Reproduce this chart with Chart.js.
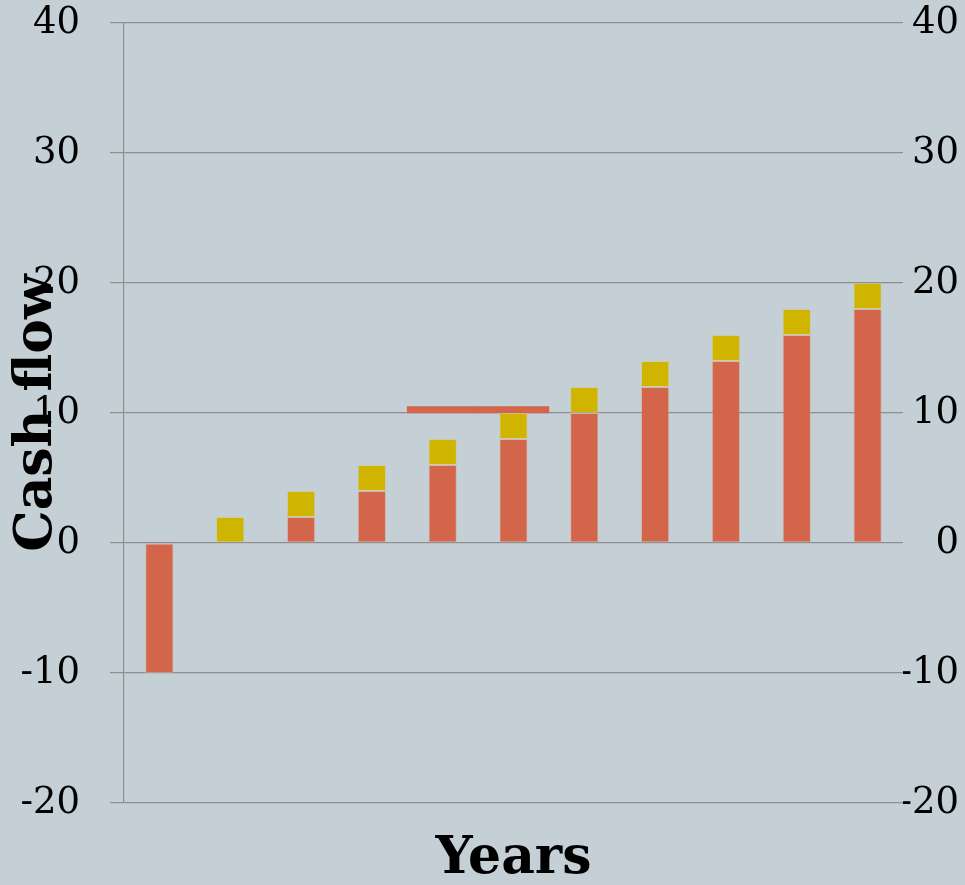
<!DOCTYPE html>
<html>
<head>
<meta charset="utf-8">
<script src="https://cdn.jsdelivr.net/npm/chart.js@4.4.1/dist/chart.umd.min.js"></script>
<style>
  html, body { margin: 0; padding: 0; background: #C5D0D6; }
  #wrap { width: 965px; height: 885px; position: relative; }
</style>
</head>
<body>
<div id="wrap"><canvas id="cashChart"></canvas></div>
<script>
// categories (years, labels hidden on the chart)
var years = ['0', '1', '2', '3', '4', '5', '6', '7', '8', '9', '10'];
// net cash flow per year (orange part)
var cashFlow = [-10, null, 2, 4, 6, 8, 10, 12, 14, 16, 18];
// extra yearly amount stacked on top (yellow part)
var extra = [null, 2, 2, 2, 2, 2, 2, 2, 2, 2, 2];
// payback marker, a thin floating bar across years 4 and 5
var payback = [null, null, null, null, [10, 10.5], [10, 10.5], null, null, null, null, null];
// tick values on both axes
var yTicks = [-20, -10, 0, 10, 20, 30, 40];

var tickFont = { family: 'DejaVu Serif', size: 37 };
var titleFont = { family: 'DejaVu Serif', size: 52, weight: 'bold' };
var gridGrey = '#8E8E8E';

var ctx = document.getElementById('cashChart').getContext('2d');
var myChart = new Chart(ctx, {
    type: 'bar',
    data: {
        labels: years,
        datasets: [{
            label: 'Cash flow',
            data: cashFlow,
            backgroundColor: '#D3654B',
            borderColor: 'rgba(225, 160, 145, 0.5)',
            borderWidth: 1,
            borderSkipped: false,
            categoryPercentage: 0.8,
            barPercentage: 0.5,
            yAxisID: 'y'
        }, {
            label: 'Extra',
            data: extra,
            backgroundColor: '#CFB400',
            borderColor: 'rgba(215, 200, 120, 0.5)',
            borderWidth: 1,
            borderSkipped: false,
            categoryPercentage: 0.8,
            barPercentage: 0.5,
            yAxisID: 'y'
        }, {
            label: 'Payback',
            data: payback,
            backgroundColor: '#D3654B',
            borderWidth: 0,
            grouped: false,
            categoryPercentage: 1,
            barPercentage: 1,
            yAxisID: 'y2'
        }]
    },
    options: {
        responsive: true,
        maintainAspectRatio: false,
        animation: false,
        layout: {
            padding: { top: 23, right: 6, left: 0, bottom: 0 }
        },
        plugins: {
            legend: { display: false },
            tooltip: { enabled: false }
        },
        scales: {
            x: {
                stacked: true,
                grid: { display: false },
                border: { display: false },
                ticks: { display: false },
                title: {
                    display: true,
                    text: 'Years',
                    color: '#000',
                    font: titleFont,
                    padding: { top: 0, bottom: -6 }
                },
                afterFit: function(scale) { scale.height = 82; }
            },
            y: {
                position: 'left',
                stacked: true,
                min: -20,
                max: 40,
                afterBuildTicks: function(scale) {
                    scale.ticks = yTicks.map(function(v) { return { value: v }; });
                },
                grid: { color: gridGrey, lineWidth: 1.2, tickLength: 14 },
                border: { display: true, color: gridGrey, width: 1.2 },
                ticks: { color: '#000', font: tickFont, padding: 30 },
                title: {
                    display: true,
                    text: 'Cash flow',
                    color: '#000',
                    font: titleFont,
                    padding: { top: 6, bottom: 0 }
                },
                afterFit: function(scale) {
                    scale.width = 124;
                    scale.paddingTop = 0;
                    scale.paddingBottom = 0;
                }
            },
            y2: {
                position: 'right',
                min: -20,
                max: 40,
                afterBuildTicks: function(scale) {
                    scale.ticks = yTicks.map(function(v) { return { value: v }; });
                },
                grid: { display: false },
                border: { display: false },
                ticks: { color: '#000', font: tickFont, crossAlign: 'far' },
                afterFit: function(scale) {
                    scale.width = 56;
                    scale.paddingTop = 0;
                    scale.paddingBottom = 0;
                }
            }
        }
    }
});
</script>
</body>
</html>
